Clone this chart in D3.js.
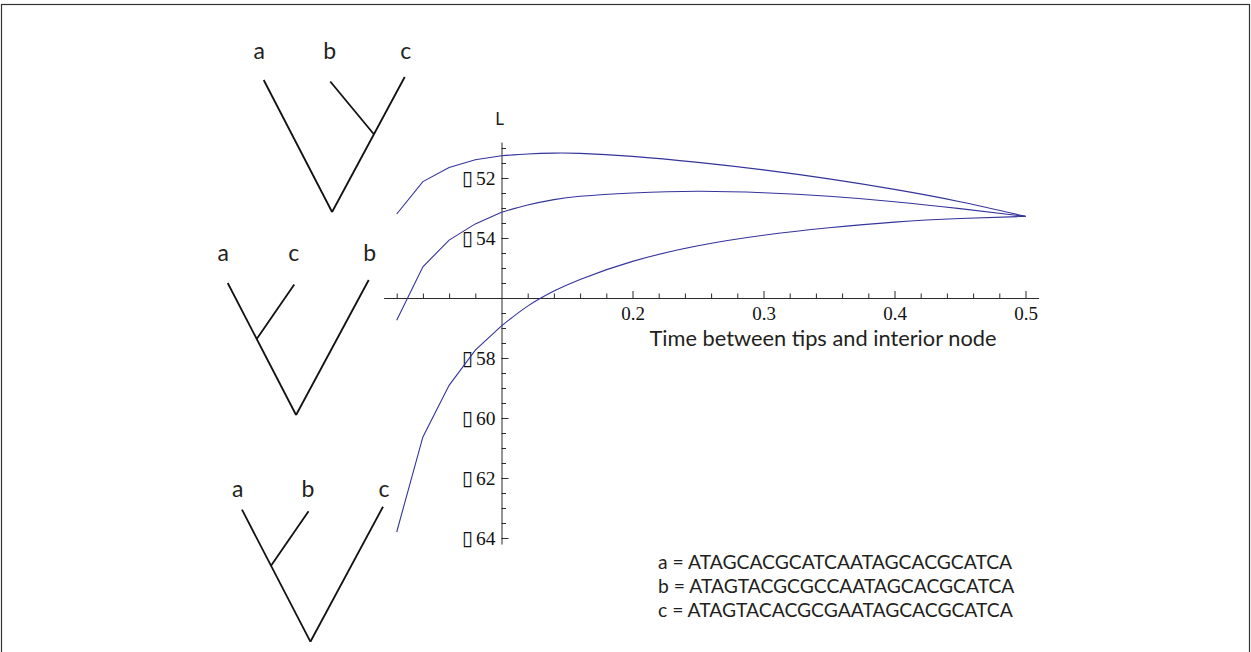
<!doctype html>
<html lang="en">
  <head>
    <meta charset="utf-8">
    <title>Likelihood vs time between tips and interior node</title>
    <script src="https://d3js.org/d3.v7.min.js"></script>
    <style>
    body {
      margin: 0;
      background: #fff;
    }

    .sans {
      font-family: Lato, "Open Sans", sans-serif;
      fill: #231f20;
    }

    .axis path,
    .axis line {
      stroke: #2b2b2b;
      stroke-width: 1;
    }

    .curve {
      fill: none;
      stroke: #34349b;
      stroke-width: 1.1;
    }

    .tree line {
      stroke: #111;
      stroke-width: 1.8;
    }
    </style>
  </head>

  <body>
    <svg width="1251" height="652"></svg>

    <script>
      // time between tips and interior node (x) and log-likelihood (L) for each topology
      var timeSteep = [0.02, 0.04, 0.06, 0.08, 0.1];
      var timeSmooth = [0.1, 0.12, 0.14, 0.16, 0.2, 0.25, 0.3, 0.35, 0.4, 0.45, 0.5];

      // tree a,(b,c)
      var lnA_steep = [-53.2, -52.12, -51.65, -51.39, -51.26];
      var lnA_smooth = [-51.26, -51.2, -51.17, -51.18, -51.28, -51.48, -51.73, -52.03, -52.38, -52.79, -53.28];
      // tree (a,c),b
      var lnB_steep = [-56.74, -54.96, -54.07, -53.53, -53.14];
      var lnB_smooth = [-53.14, -52.9, -52.72, -52.61, -52.5, -52.44, -52.49, -52.61, -52.79, -53.02, -53.28];
      // tree (a,b),c
      var lnC_steep = [-63.8, -60.63, -58.91, -57.74, -56.93];
      var lnC_smooth = [-56.93, -56.27, -55.77, -55.38, -54.78, -54.26, -53.91, -53.66, -53.47, -53.35, -53.28];

      var xMajorTicks = [0.2, 0.3, 0.4, 0.5];
      var xMinorTicks = [0.02, 0.04, 0.06, 0.08, 0.12, 0.14, 0.16, 0.18, 0.22, 0.24, 0.26, 0.28,
                         0.32, 0.34, 0.36, 0.38, 0.42, 0.44, 0.46, 0.48];
      var yMajorTicks = [-64, -62, -60, -58, -54, -52];
      var yMinorTicks = [-64, -63.5, -63, -62.5, -62, -61.5, -61, -60.5, -60, -59.5, -59, -58.5,
                         -58, -57.5, -57, -56.5, -55.5, -55, -54.5, -54, -53.5, -53, -52.5, -52,
                         -51.5, -51];

      // the three topologies: leaf order left to right, and which outer tip the cherry joins
      var treeLeaves = [['a', 'b', 'c'], ['a', 'c', 'b'], ['a', 'b', 'c']];
      var treeCherry = ['right', 'left', 'left'];

      var sequenceNames = ['a', 'b', 'c'];
      var sequences = [
        'ATAGCACGCATCAATAGCACGCATCA',
        'ATAGTACGCGCCAATAGCACGCATCA',
        'ATAGTACACGCGAATAGCACGCATCA'
      ];

      var svg = d3.select('svg');
      var serif = '"Liberation Serif", "Times New Roman", serif';

      // frame
      svg.append('rect')
        .attr('x', 1.5).attr('y', 4.5)
        .attr('width', 1248).attr('height', 700)
        .attr('fill', 'none')
        .attr('stroke', '#333')
        .attr('stroke-width', 1.2);

      var xScale = d3.scaleLinear().domain([0.01, 0.51]).range([383.6, 1038.6]);
      var yScale = d3.scaleLinear().domain([-64.2, -50.8]).range([544, 142]);

      var x0 = xScale(0.1);
      var y0 = yScale(-56);

      // x axis (ticks point up, labels below)
      svg.append('g')
        .attr('class', 'axis')
        .attr('transform', 'translate(0,' + y0 + ')')
        .call(d3.axisBottom(xScale).tickValues(xMinorTicks).tickSize(-4.5).tickSizeOuter(0).tickFormat(''));

      var xAxis = svg.append('g')
        .attr('class', 'axis')
        .attr('transform', 'translate(0,' + y0 + ')')
        .call(d3.axisBottom(xScale).tickValues(xMajorTicks).tickSize(-7).tickSizeOuter(0)
          .tickPadding(9).tickFormat(d3.format('.1f')));

      xAxis.select('.domain').remove();
      xAxis.selectAll('.tick text')
        .style('font-family', serif)
        .style('font-size', '19px')
        .attr('fill', '#111');

      // y axis (ticks point right, labels left)
      svg.append('g')
        .attr('class', 'axis')
        .attr('transform', 'translate(' + x0 + ',0)')
        .call(d3.axisLeft(yScale).tickValues(yMinorTicks).tickSize(-4.5).tickSizeOuter(0).tickFormat(''));

      var yAxis = svg.append('g')
        .attr('class', 'axis')
        .attr('transform', 'translate(' + x0 + ',0)')
        .call(d3.axisLeft(yScale).tickValues(yMajorTicks).tickSize(-7).tickSizeOuter(0).tickPadding(6));

      yAxis.select('.domain').remove();

      // the minus sign came out as a missing glyph box in the original
      yAxis.selectAll('.tick text')
        .text('')
        .attr('dy', '0.34em')
        .attr('fill', '#111')
        .style('font-family', serif)
        .style('font-size', '19.5px')
        .each(function(d){
          var t = d3.select(this);
          t.append('tspan')
            .style('font-family', '"DejaVu Sans", sans-serif')
            .style('font-size', '20px')
            .text('\u25AF');
          t.append('tspan')
            .attr('dx', 3)
            .text(Math.abs(d));
        });

      svg.append('text')
        .attr('class', 'sans')
        .attr('x', x0 - 2)
        .attr('y', 125)
        .attr('text-anchor', 'middle')
        .style('font-size', '17px')
        .text('L');

      svg.append('text')
        .attr('class', 'sans')
        .attr('x', 823)
        .attr('y', 346)
        .attr('text-anchor', 'middle')
        .style('font-size', '21.8px')
        .text('Time between tips and interior node');

      // curves: straight segments over the coarse start, smooth afterwards
      var lineSteep = d3.line()
        .x(function(d){ return xScale(d[0]); })
        .y(function(d){ return yScale(d[1]); });

      var lineSmooth = d3.line()
        .curve(d3.curveNatural)
        .x(function(d){ return xScale(d[0]); })
        .y(function(d){ return yScale(d[1]); });

      var steep = [lnA_steep, lnB_steep, lnC_steep];
      var smooth = [lnA_smooth, lnB_smooth, lnC_smooth];

      steep.forEach(function(vals, i){
        svg.append('path')
          .attr('class', 'curve')
          .attr('d', lineSteep(d3.zip(timeSteep, vals)) + lineSmooth(d3.zip(timeSmooth, smooth[i])).replace(/^M/, 'L'));
      });

      // trees, drawn in a unit frame then mapped to the page
      var treeOrigins = [[263.7, 212], [227.7, 415], [242, 641.7]];
      var labelLift = [152.7, 154.3, 145];
      var tipX = [0, 0.472, 1];
      var tipH = [132, 130.5, 135];
      var labelShift = [-4.4, -0.5, 1];
      var rootX = 0.485;
      var cherryAt = 0.576;

      treeLeaves.forEach(function(leaves, i){
        var ox = treeOrigins[i][0], oy = treeOrigins[i][1];
        var tx = d3.scaleLinear().domain([0, 1]).range([ox, ox + 141]);
        var ty = d3.scaleLinear().domain([0, 1]).range([oy, oy - 1]);

        var g = svg.append('g').attr('class', 'tree');
        var root = [tx(rootX), ty(0)];
        var tips = tipX.map(function(u, k){ return [tx(u), ty(tipH[k])]; });
        var outer = treeCherry[i] === 'right' ? tips[2] : tips[0];
        var inner = [root[0] + cherryAt * (outer[0] - root[0]), root[1] + cherryAt * (outer[1] - root[1])];

        [[root, tips[0]], [root, tips[2]], [inner, tips[1]]].forEach(function(seg){
          g.append('line')
            .attr('x1', seg[0][0]).attr('y1', seg[0][1])
            .attr('x2', seg[1][0]).attr('y2', seg[1][1]);
        });

        leaves.forEach(function(name, k){
          svg.append('text')
            .attr('class', 'sans')
            .attr('x', tips[k][0] + labelShift[k])
            .attr('y', oy - labelLift[i])
            .attr('text-anchor', 'middle')
            .style('font-size', '23px')
            .text(name);
        });
      });

      // sequences
      svg.append('g').selectAll('text')
        .data(sequences)
        .enter()
        .append('text')
          .attr('class', 'sans')
          .attr('x', 658)
          .attr('y', function(d, i){ return 569.3 + i * 24; })
          .style('font-size', '19.3px')
          .text(function(d, i){ return sequenceNames[i] + ' = ' + d; });
    </script>
  </body>
</html>
